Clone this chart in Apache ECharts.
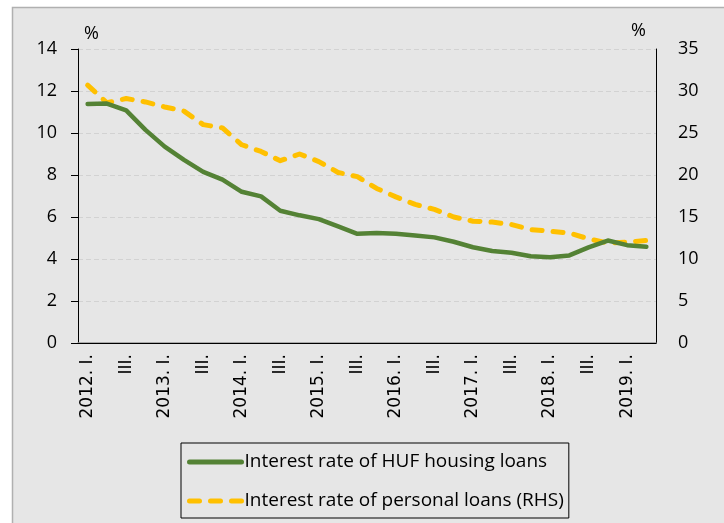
<!DOCTYPE html>
<html>
<head>
<meta charset="utf-8">
<script src="https://cdn.jsdelivr.net/npm/echarts@6/dist/echarts.min.js"></script>
<style>
  html, body { margin: 0; padding: 0; background: #fff; }
  #chart { width: 724px; height: 523px; }
</style>
</head>
<body>
<div id="chart"></div>
<script>
// quarters 2012 Q1 .. 2019 Q2
const quarters = [
  '2012. I.', 'II.', 'III.', 'IV.',
  '2013. I.', 'II.', 'III.', 'IV.',
  '2014. I.', 'II.', 'III.', 'IV.',
  '2015. I.', 'II.', 'III.', 'IV.',
  '2016. I.', 'II.', 'III.', 'IV.',
  '2017. I.', 'II.', 'III.', 'IV.',
  '2018. I.', 'II.', 'III.', 'IV.',
  '2019. I.', 'II.'
];

// HUF housing loans, left axis (%)
const housingRate = [
  11.38, 11.4, 11.08, 10.15,
  9.35, 8.72, 8.15, 7.78,
  7.2, 6.98, 6.3, 6.08,
  5.9, 5.55, 5.2, 5.24,
  5.2, 5.12, 5.03, 4.82,
  4.56, 4.38, 4.3, 4.13,
  4.08, 4.17, 4.55, 4.88,
  4.66, 4.58
];

// personal loans, right axis (%)
const personalRate = [
  30.7, 28.6, 29.1, 28.7,
  28.1, 27.6, 26.0, 25.6,
  23.6, 22.8, 21.7, 22.5,
  21.6, 20.3, 19.8, 18.4,
  17.4, 16.5, 15.9, 15.0,
  14.5, 14.4, 14.1, 13.5,
  13.3, 13.1, 12.4, 11.9,
  12.0, 12.2
];

const leftTicks = { min: 0, max: 14, interval: 2 };
const rightTicks = { min: 0, max: 35, interval: 5 };

const seriesNames = ['Interest rate of HUF housing loans', 'Interest rate of personal loans (RHS)'];

const chart = echarts.init(document.getElementById('chart'), null, { renderer: 'canvas' });

const labelFont = { fontFamily: 'Open Sans', fontSize: 18, color: '#000' };

chart.setOption({
  animation: false,
  backgroundColor: '#fff',
  graphic: [{
    type: 'rect',
    shape: { x: 12.5, y: 7.5, width: 740, height: 540 },
    style: { fill: '#e6e6e6', stroke: '#b0b0b0', lineWidth: 1.5 },
    z: -10
  }],
  grid: { left: 78, right: 68, top: 49, bottom: 180 },
  legend: {
    data: seriesNames,
    orient: 'vertical',
    left: 181,
    top: 443,
    padding: [9, 5, 7, 6],
    itemGap: 19,
    itemWidth: 52,
    itemHeight: 20,
    borderColor: '#000',
    borderWidth: 1,
    itemStyle: { opacity: 0 },
    lineStyle: { width: 5, cap: 'round' },
    textStyle: { fontFamily: 'Open Sans', fontSize: 19, lineHeight: 20, color: '#000', padding: [0, 0, 0, -2] }
  },
  xAxis: [{
    type: 'category',
    data: quarters,
    boundaryGap: true,
    axisLine: { lineStyle: { color: '#969696', width: 1.5 } },
    axisTick: { show: false },
    axisLabel: {
      interval: 1,
      rotate: 90,
      margin: 11,
      fontFamily: 'DejaVu Sans',
      fontSize: 17,
      color: '#000'
    }
  }, {
    type: 'category',
    data: quarters,
    position: 'top',
    axisLine: { lineStyle: { color: '#000', width: 1 } },
    axisTick: { show: false },
    axisLabel: { show: false }
  }],
  yAxis: [{
    type: 'value',
    min: leftTicks.min,
    max: leftTicks.max,
    interval: leftTicks.interval,
    name: '%',
    nameGap: 6,
    nameTextStyle: { ...labelFont, align: 'left', padding: [0, 0, 0, 6] },
    axisLine: { show: true, lineStyle: { color: '#000', width: 1 } },
    axisTick: { show: true, length: 7, lineStyle: { color: '#000' } },
    axisLabel: { ...labelFont, margin: 21 },
    splitLine: { lineStyle: { color: '#d2d2d2', type: [5, 3] } }
  }, {
    type: 'value',
    min: rightTicks.min,
    max: rightTicks.max,
    interval: rightTicks.interval,
    position: 'right',
    name: '%',
    nameGap: 9,
    nameTextStyle: { ...labelFont, align: 'right', padding: [0, 10, 0, 0] },
    axisLine: { show: true, lineStyle: { color: '#000', width: 1 } },
    axisTick: { show: false },
    axisLabel: { ...labelFont, margin: 22 },
    splitLine: { show: false }
  }],
  series: [{
    name: seriesNames[0],
    type: 'line',
    yAxisIndex: 0,
    data: housingRate,
    symbol: 'none',
    lineStyle: { color: '#548235', width: 4.5, cap: 'round', join: 'round' },
    itemStyle: { color: '#548235' },
    z: 3
  }, {
    name: seriesNames[1],
    type: 'line',
    yAxisIndex: 1,
    data: personalRate,
    symbol: 'none',
    lineStyle: { color: '#ffc000', width: 5, type: [10, 11], cap: 'round', join: 'round' },
    itemStyle: { color: '#ffc000' },
    z: 2
  }]
});
</script>
</body>
</html>
